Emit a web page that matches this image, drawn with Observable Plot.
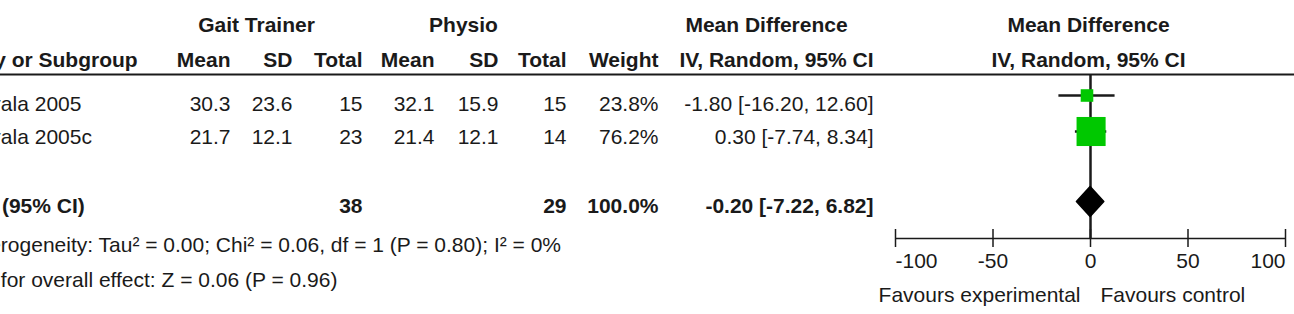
<!DOCTYPE html>
<html><head><meta charset="utf-8">
<script src="https://cdn.jsdelivr.net/npm/d3@7"></script>
<script src="https://cdn.jsdelivr.net/npm/@observablehq/plot@0.6"></script>
<style>
html,body{margin:0;padding:0;background:#fff;}
#chart{width:1294px;height:314px;overflow:hidden;position:relative;}
</style></head><body><div id="chart"></div>
<script>
// ---------- data ----------
const studies = ["Peurala 2005", "Peurala 2005c"];
const gtMean = [30.3, 21.7];
const gtSD = [23.6, 12.1];
const gtN = [15, 23];
const phMean = [32.1, 21.4];
const phSD = [15.9, 12.1];
const phN = [15, 14];
const weight = [23.8, 76.2];
const md = [-1.80, 0.30];
const mdLo = [-16.20, -7.74];
const mdHi = [12.60, 8.34];
const totalLabel = "Total (95% CI)";
const totalGtN = 38;
const totalPhN = 29;
const totalWeight = 100.0;
const totalMd = -0.20;
const totalLo = -7.22;
const totalHi = 6.82;
const hetText = "Heterogeneity: Tau\u00b2 = 0.00; Chi\u00b2 = 0.06, df = 1 (P = 0.80); I\u00b2 = 0%";
const effText = "Test for overall effect: Z = 0.06 (P = 0.96)";
const groupHeaders = ["Gait Trainer", "Physio", "Mean Difference", "Mean Difference"];
const colHeaders = ["Study or Subgroup", "Mean", "SD", "Total", "Mean", "SD", "Total", "Weight", "IV, Random, 95% CI", "IV, Random, 95% CI"];
const ticks = [-100, -50, 0, 50, 100];
const favours = ["Favours experimental", "Favours control"];

// ---------- layout ----------
const W = 1294, H = 314;
const FONT = "'Liberation Sans', Arial, sans-serif";
const INK = "#1a1a1a";
const GREEN = "#00c800";
const COL = {left: -44, leftBold: -53, gtMean: 230, gtSD: 292, gtN: 362, phMean: 434, phSD: 498, phN: 566, weight: 658, ci: 873,
             gtCenter: 256, phCenter: 463, mdCenter: 766, forestCenter: 1088};
const BASE = {h1: 31, h2: 66, rows: [110, 143], total: 212, het: 251, eff: 286, tick: 267, fav: 301};
const FOREST = {rows: [95, 131], total: 201, half: 15, top: 74, axis: 238, tick: 9};

const rows = studies.map((s, i) => ({
  study: s, gtMean: gtMean[i], gtSD: gtSD[i], gtN: gtN[i], phMean: phMean[i], phSD: phSD[i], phN: phN[i],
  weight: weight[i], md: md[i], lo: mdLo[i], hi: mdHi[i]
}));
const ciText = (m, l, h) => `${m.toFixed(2)} [${l.toFixed(2)}, ${h.toFixed(2)}]`;
const total = {label: totalLabel, gtN: totalGtN, phN: totalPhN, weight: totalWeight, md: totalMd, lo: totalLo, hi: totalHi};
const diamond = [
  {x: total.lo, y: FOREST.total},
  {x: total.md, y: FOREST.total - FOREST.half},
  {x: total.hi, y: FOREST.total},
  {x: total.md, y: FOREST.total + FOREST.half},
  {x: total.lo, y: FOREST.total}
];

const T = (data, o) => Plot.text(data, {frameAnchor: "left", lineAnchor: "bottom", fontSize: 21, fill: INK, ...o});
const rowY = (d, i) => BASE.rows[i];

const marks = [
  // header line
  Plot.ruleY([FOREST.top], {stroke: INK, strokeWidth: 2}),
  // group headers
  T([groupHeaders[0]], {text: d => d, y: BASE.h1, dx: COL.gtCenter, textAnchor: "middle", fontWeight: "bold"}),
  T([groupHeaders[1]], {text: d => d, y: BASE.h1, dx: COL.phCenter, textAnchor: "middle", fontWeight: "bold"}),
  T([groupHeaders[2]], {text: d => d, y: BASE.h1, dx: COL.mdCenter, textAnchor: "middle", fontWeight: "bold"}),
  T([groupHeaders[3]], {text: d => d, y: BASE.h1, dx: COL.forestCenter, textAnchor: "middle", fontWeight: "bold"}),
  // column headers
  T([colHeaders[0]], {text: d => d, y: BASE.h2, dx: COL.leftBold, textAnchor: "start", fontWeight: "bold"}),
  T([colHeaders[1]], {text: d => d, y: BASE.h2, dx: COL.gtMean, textAnchor: "end", fontWeight: "bold"}),
  T([colHeaders[2]], {text: d => d, y: BASE.h2, dx: COL.gtSD, textAnchor: "end", fontWeight: "bold"}),
  T([colHeaders[3]], {text: d => d, y: BASE.h2, dx: COL.gtN, textAnchor: "end", fontWeight: "bold"}),
  T([colHeaders[4]], {text: d => d, y: BASE.h2, dx: COL.phMean, textAnchor: "end", fontWeight: "bold"}),
  T([colHeaders[5]], {text: d => d, y: BASE.h2, dx: COL.phSD, textAnchor: "end", fontWeight: "bold"}),
  T([colHeaders[6]], {text: d => d, y: BASE.h2, dx: COL.phN, textAnchor: "end", fontWeight: "bold"}),
  T([colHeaders[7]], {text: d => d, y: BASE.h2, dx: COL.weight, textAnchor: "end", fontWeight: "bold"}),
  T([colHeaders[8]], {text: d => d, y: BASE.h2, dx: COL.ci, textAnchor: "end", fontWeight: "bold"}),
  T([colHeaders[9]], {text: d => d, y: BASE.h2, dx: COL.forestCenter, textAnchor: "middle", fontWeight: "bold"}),
  // study rows
  T(rows, {text: "study", y: rowY, dx: COL.left, textAnchor: "start"}),
  T(rows, {text: d => d.gtMean.toFixed(1), y: rowY, dx: COL.gtMean, textAnchor: "end"}),
  T(rows, {text: d => d.gtSD.toFixed(1), y: rowY, dx: COL.gtSD, textAnchor: "end"}),
  T(rows, {text: d => String(d.gtN), y: rowY, dx: COL.gtN, textAnchor: "end"}),
  T(rows, {text: d => d.phMean.toFixed(1), y: rowY, dx: COL.phMean, textAnchor: "end"}),
  T(rows, {text: d => d.phSD.toFixed(1), y: rowY, dx: COL.phSD, textAnchor: "end"}),
  T(rows, {text: d => String(d.phN), y: rowY, dx: COL.phN, textAnchor: "end"}),
  T(rows, {text: d => d.weight.toFixed(1) + "%", y: rowY, dx: COL.weight, textAnchor: "end"}),
  T(rows, {text: d => ciText(d.md, d.lo, d.hi), y: rowY, dx: COL.ci, textAnchor: "end"}),
  // total row
  T([total], {text: "label", y: BASE.total, dx: COL.leftBold, textAnchor: "start", fontWeight: "bold"}),
  T([total], {text: d => String(d.gtN), y: BASE.total, dx: COL.gtN, textAnchor: "end", fontWeight: "bold"}),
  T([total], {text: d => String(d.phN), y: BASE.total, dx: COL.phN, textAnchor: "end", fontWeight: "bold"}),
  T([total], {text: d => d.weight.toFixed(1) + "%", y: BASE.total, dx: COL.weight, textAnchor: "end", fontWeight: "bold"}),
  T([total], {text: d => ciText(d.md, d.lo, d.hi), y: BASE.total, dx: COL.ci, textAnchor: "end", fontWeight: "bold"}),
  // footnotes
  T([hetText], {text: d => d, y: BASE.het, dx: COL.left, textAnchor: "start"}),
  T([effText], {text: d => d, y: BASE.eff, dx: COL.left, textAnchor: "start"}),
  // forest: zero line
  Plot.ruleX([0], {x: d => d, y1: FOREST.top, y2: FOREST.axis, stroke: INK, strokeWidth: 2.5}),
  // CIs
  Plot.ruleY(rows, {x1: "lo", x2: "hi", y: (d, i) => FOREST.rows[i], stroke: INK, strokeWidth: 2.5}),
  // squares
  Plot.dot(rows, {x: "md", y: (d, i) => FOREST.rows[i], r: "weight", symbol: "square", fill: GREEN, stroke: "none"}),
  // diamond
  Plot.line(diamond, {x: "x", y: "y", fill: "black", stroke: "black", strokeWidth: 1.5}),
  // axis
  Plot.ruleY([{a: d3.min(ticks), b: d3.max(ticks)}], {x1: "a", x2: "b", y: FOREST.axis, stroke: INK, strokeWidth: 1.5}),
  Plot.ruleX(ticks, {x: d => d, y1: FOREST.axis - FOREST.tick, y2: FOREST.axis + FOREST.tick, stroke: INK, strokeWidth: 1.5}),
  Plot.text(ticks.slice(0, 1), {x: d => d, y: BASE.tick, text: d => String(d), textAnchor: "start", lineAnchor: "bottom", fontSize: 21, fill: INK}),
  Plot.text(ticks.slice(1, -1), {x: d => d, y: BASE.tick, text: d => String(d), textAnchor: "middle", lineAnchor: "bottom", fontSize: 21, fill: INK}),
  Plot.text(ticks.slice(-1), {x: d => d, y: BASE.tick, text: d => String(d), textAnchor: "end", lineAnchor: "bottom", fontSize: 21, fill: INK}),
  Plot.text([favours[0]], {x: 0, y: BASE.fav, dx: -10, text: d => d, textAnchor: "end", lineAnchor: "bottom", fontSize: 21, fill: INK}),
  Plot.text([favours[1]], {x: 0, y: BASE.fav, dx: 10, text: d => d, textAnchor: "start", lineAnchor: "bottom", fontSize: 21, fill: INK})
];

const chart = Plot.plot({
  width: W, height: H,
  marginLeft: 0, marginRight: 0, marginTop: 0, marginBottom: 0,
  x: {domain: [d3.min(ticks), d3.max(ticks)], range: [895, 1285], axis: null},
  y: {type: "identity", axis: null},
  r: {type: "pow", exponent: 0.72, domain: [0, d3.max(weight)], range: [0, 16.4]},
  style: {fontFamily: FONT, fontSize: "21px", background: "white", color: INK},
  marks
});
document.getElementById("chart").appendChild(chart);
</script>
</body></html>
